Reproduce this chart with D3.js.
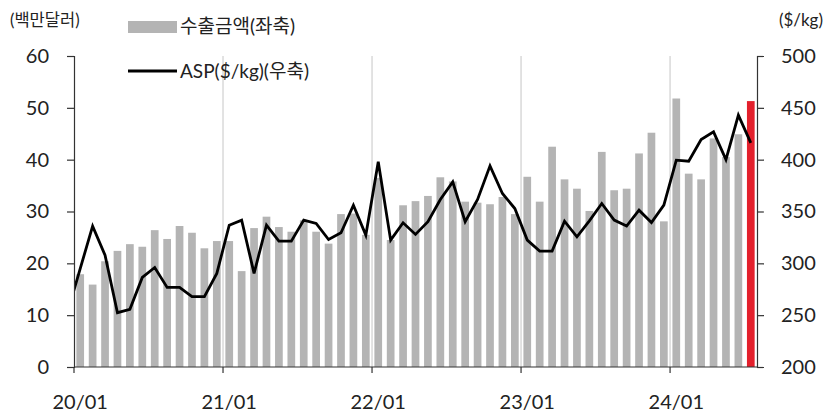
<!DOCTYPE html>
<html>
<head>
<meta charset="utf-8">
<script src="https://cdn.jsdelivr.net/npm/d3@7"></script>
<style>
  body { margin: 0; background: #fff; }
  svg text { font-family: Lato, "Noto Sans CJK KR", sans-serif; fill: #222; }
</style>
</head>
<body>
<div id="chart"></div>
<script>
// monthly export value (USD mn, left axis), 20/01 ~ 24/07
var exports = [17.9, 15.9, 20.4, 22.4, 23.7, 23.2, 26.4, 24.7, 27.2, 25.9, 22.9, 24.3,
  24.3, 18.5, 26.8, 29.0, 27.0, 26.1, 28.3, 26.1, 23.8, 29.5, 29.6, 25.5,
  36.5, 24.5, 31.2, 32.0, 33.0, 36.6, 35.8, 31.9, 31.7, 31.4, 32.8, 29.5,
  36.7, 31.9, 42.5, 36.2, 34.4, 30.1, 41.5, 34.1, 34.4, 41.2, 45.2, 28.1,
  51.8, 37.3, 36.2, 44.1, 40.5, 44.9, 51.3];
// ASP ($/kg, right axis)
var asp = [294.9, 335.9, 307.9, 252.4, 255.6, 286.4, 296.0, 276.8, 276.8, 267.8, 267.8, 290.3,
  336.8, 341.7, 290.3, 336.8, 321.4, 321.4, 341.7, 338.5, 323.0, 329.5, 356.1, 327.2,
  397.9, 322.4, 339.1, 327.9, 340.1, 361.6, 378.6, 340.1, 361.6, 394.0, 367.4, 352.9,
  322.4, 311.8, 311.8, 340.7, 325.6, 341.0, 357.7, 341.7, 335.9, 351.3, 339.4, 356.1,
  399.5, 398.5, 419.4, 426.8, 400.1, 442.9, 416.2];
var aspPrev = 253.6; // 19/12, only the lead-in of the line shows
var leftTicks = [0, 10, 20, 30, 40, 50, 60];
var rightTicks = [200, 250, 300, 350, 400, 450, 500];

var months = [];
for (var yr = 20; yr <= 24; yr++) {
  for (var m = 1; m <= 12; m++) {
    if (months.length < exports.length) months.push(yr + "/" + (m < 10 ? "0" + m : m));
  }
}
var allMonths = ["19/12"].concat(months);

var W = 831, H = 416;
var pLeft = 74, pRight = 757, pTop = 56, pBottom = 367;
var step = (pRight - pLeft) / months.length;

var svg = d3.select("#chart").append("svg").attr("width", W).attr("height", H);

var x = d3.scaleBand().domain(allMonths).range([pLeft - step, pRight]).paddingInner(0.38).paddingOuter(0.19);
var xc = function(d) { return x(d) + x.bandwidth() / 2; };
var yL = d3.scaleLinear().domain([0, 60]).range([pBottom, pTop]);
var yR = d3.scaleLinear().domain([200, 500]).range([pBottom, pTop]);

svg.append("clipPath").attr("id", "plot")
  .append("rect").attr("x", pLeft).attr("y", 0).attr("width", pRight - pLeft).attr("height", H);

// january gridlines
var janMonths = months.filter(function(d, i) { return i > 0 && d.slice(3) == "01"; });
svg.selectAll(".grid").data(janMonths).enter().append("line")
  .attr("x1", function(d) { return xc(d) - step / 2; })
  .attr("x2", function(d) { return xc(d) - step / 2; })
  .attr("y1", pTop).attr("y2", pBottom)
  .attr("stroke", "#d9d9d9").attr("stroke-width", 1.5);

// bars
svg.selectAll(".bar").data(months).enter().append("rect")
  .attr("x", function(d) { return x(d); })
  .attr("width", x.bandwidth())
  .attr("y", function(d, i) { return yL(exports[i]); })
  .attr("height", function(d, i) { return pBottom - yL(exports[i]); })
  .attr("fill", function(d, i) { return i == months.length - 1 ? "#e3202c" : "#b4b4b4"; });

// ASP line
var linePts = [[xc("19/12"), yR(aspPrev)]].concat(months.map(function(d, i) { return [xc(d), yR(asp[i])]; }));
svg.append("path").attr("d", d3.line()(linePts))
  .attr("fill", "none").attr("stroke", "#000").attr("stroke-width", 2.8)
  .attr("stroke-linejoin", "miter").attr("clip-path", "url(#plot)");

// axes
var axL = svg.append("g").attr("transform", "translate(" + pLeft + ",0)")
  .call(d3.axisLeft(yL).tickValues(leftTicks).tickSize(7).tickPadding(18));
var axR = svg.append("g").attr("transform", "translate(" + pRight + ",0)")
  .call(d3.axisRight(yR).tickValues(rightTicks).tickSize(7).tickPadding(17));
[axL, axR].forEach(function(a) {
  a.select(".domain").attr("stroke", "#333").attr("stroke-width", 1.2);
  a.selectAll(".tick line").attr("stroke", "#333").attr("stroke-width", 1.2);
  a.selectAll("text").style("font-size", "20px").attr("fill", "#222");
});

svg.append("line").attr("x1", pLeft).attr("x2", pRight).attr("y1", pBottom).attr("y2", pBottom)
  .attr("stroke", "#333").attr("stroke-width", 1.2);
var janAll = months.filter(function(d) { return d.slice(3) == "01"; });
svg.selectAll(".xt").data(janAll).enter().append("line")
  .attr("x1", function(d) { return xc(d) - step / 2; })
  .attr("x2", function(d) { return xc(d) - step / 2; })
  .attr("y1", pBottom).attr("y2", pBottom + 6)
  .attr("stroke", "#333").attr("stroke-width", 1.2);
svg.selectAll(".xl").data(janAll).enter().append("text")
  .attr("x", function(d) { return xc(d); })
  .attr("y", 409)
  .attr("text-anchor", "middle")
  .style("font-size", "20px")
  .text(function(d) { return d; });

// unit labels
svg.append("text").attr("x", 10).attr("y", 26).style("font-size", "16.5px").text("(백만달러)");
svg.append("text").attr("x", 823).attr("y", 26).attr("text-anchor", "end").style("font-size", "17px").text("($/kg)");

// legend
svg.append("rect").attr("x", 128).attr("y", 21).attr("width", 49).attr("height", 12).attr("fill", "#b4b4b4");
svg.append("text").attr("x", 180).attr("y", 33).style("font-size", "19px").text("수출금액(좌축)");
svg.append("line").attr("x1", 128).attr("x2", 177).attr("y1", 71).attr("y2", 71)
  .attr("stroke", "#000").attr("stroke-width", 2.8);
svg.append("text").attr("x", 180).attr("y", 78).style("font-size", "19px").text("ASP($/kg)(우축)");
</script>
</body>
</html>
